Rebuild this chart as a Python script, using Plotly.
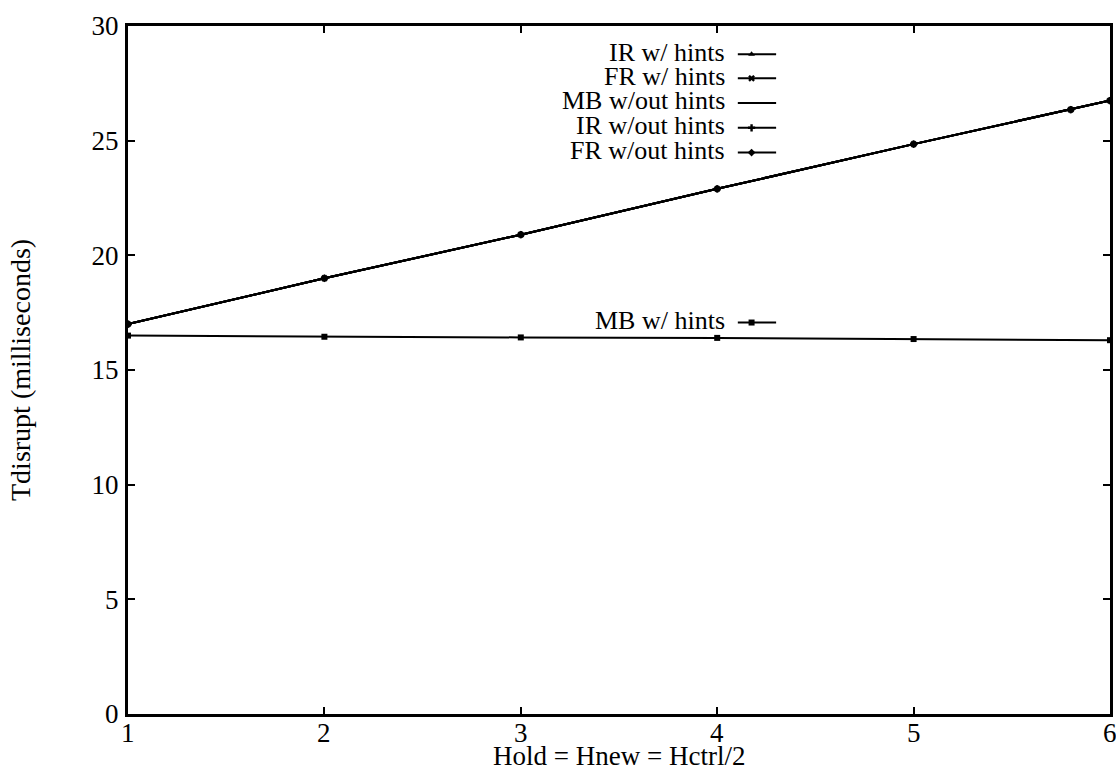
import plotly.graph_objects as go

# ---- data ----
hold = [1, 2, 3, 4, 5, 5.8, 6]
ir_w_hints = [17.0, 19.0, 20.9, 22.9, 24.85, 26.35, 26.75]
fr_w_hints = [17.0, 19.0, 20.9, 22.9, 24.85, 26.35, 26.75]
mb_wout_hints = [17.0, 19.0, 20.9, 22.9, 24.85, 26.35, 26.75]
ir_wout_hints = [17.0, 19.0, 20.9, 22.9, 24.85, 26.35, 26.75]
fr_wout_hints = [17.0, 19.0, 20.9, 22.9, 24.85, 26.35, 26.75]
hold_mb = [1, 2, 3, 4, 5, 6]
mb_w_hints = [16.5, 16.45, 16.42, 16.4, 16.35, 16.3]

x_ticks = [1, 2, 3, 4, 5, 6]
y_ticks = [0, 5, 10, 15, 20, 25, 30]

series = [
    ("IR w/ hints", hold, ir_w_hints, "triangle-up"),
    ("FR w/ hints", hold, fr_w_hints, "x"),
    ("MB w/out hints", hold, mb_wout_hints, None),
    ("IR w/out hints", hold, ir_wout_hints, "cross"),
    ("FR w/out hints", hold, fr_wout_hints, "diamond"),
    ("MB w/ hints", hold_mb, mb_w_hints, "square"),
]

FONT = "Liberation Serif"
fig = go.Figure()

for name, xs, ys, sym in series:
    if sym is None:
        fig.add_trace(go.Scatter(x=xs, y=ys, mode="lines", name=name,
                                 line=dict(color="black", width=2), showlegend=False))
    else:
        fig.add_trace(go.Scatter(x=xs, y=ys, mode="lines+markers", name=name,
                                 line=dict(color="black", width=2),
                                 marker=dict(symbol=sym, size=6, color="black"),
                                 showlegend=False))

# ---- custom legend (text right-aligned, sample to the right) ----
leg_y = [0.962, 0.927, 0.891, 0.855, 0.819, 0.572]
for (name, xs, ys, sym), yy in zip(series, leg_y):
    fig.add_annotation(x=0.610, y=yy, xref="paper", yref="paper", text=name,
                       showarrow=False, xanchor="right", yanchor="middle",
                       font=dict(family=FONT, size=26, color="black"))
    fig.add_trace(go.Scatter(x=[0.621, 0.66], y=[yy - 0.003, yy - 0.003], mode="lines",
                             xaxis="x2", yaxis="y2", showlegend=False,
                             line=dict(color="black", width=2), hoverinfo="skip"))
    if sym is not None:
        fig.add_trace(go.Scatter(x=[0.635], y=[yy - 0.003], mode="markers",
                                 xaxis="x2", yaxis="y2", showlegend=False,
                                 marker=dict(symbol=sym, size=6, color="black"),
                                 hoverinfo="skip"))

axis_common = dict(showline=True, linecolor="black", linewidth=3, mirror="ticks",
                   ticks="inside", ticklen=7, tickwidth=2, tickcolor="black",
                   showgrid=False, zeroline=False,
                   tickfont=dict(family=FONT, size=27, color="black"))

fig.update_layout(
    width=1116, height=772,
    margin=dict(l=128, r=3, t=26, b=58),
    paper_bgcolor="white", plot_bgcolor="white",
    showlegend=False,
    xaxis=dict(range=[1, 6], tickvals=x_ticks, showticklabels=False, **axis_common),
    yaxis=dict(range=[0, 30], tickvals=y_ticks, ticklabelstandoff=1, **axis_common),
    xaxis2=dict(range=[0, 1], overlaying="x", visible=False),
    yaxis2=dict(range=[0, 1], overlaying="y", visible=False),
)

# x tick labels as text just below the axis
for t in x_ticks:
    fig.add_annotation(x=t, y=0, xref="x", yref="paper", text=str(t),
                       showarrow=False, xanchor="center", yanchor="top", yshift=-2,
                       font=dict(family=FONT, size=27, color="black"))

fig.add_annotation(x=0.5, y=-0.061, xref="paper", yref="paper",
                   text="Hold = Hnew = Hctrl/2", showarrow=False,
                   xanchor="center", yanchor="middle",
                   font=dict(family=FONT, size=27, color="black"))
fig.add_annotation(x=-0.11, y=0.5, xref="paper", yref="paper",
                   text="Tdisrupt (milliseconds)", showarrow=False, textangle=-90,
                   xanchor="center", yanchor="middle",
                   font=dict(family=FONT, size=28, color="black"))

fig.write_html("out.html")
